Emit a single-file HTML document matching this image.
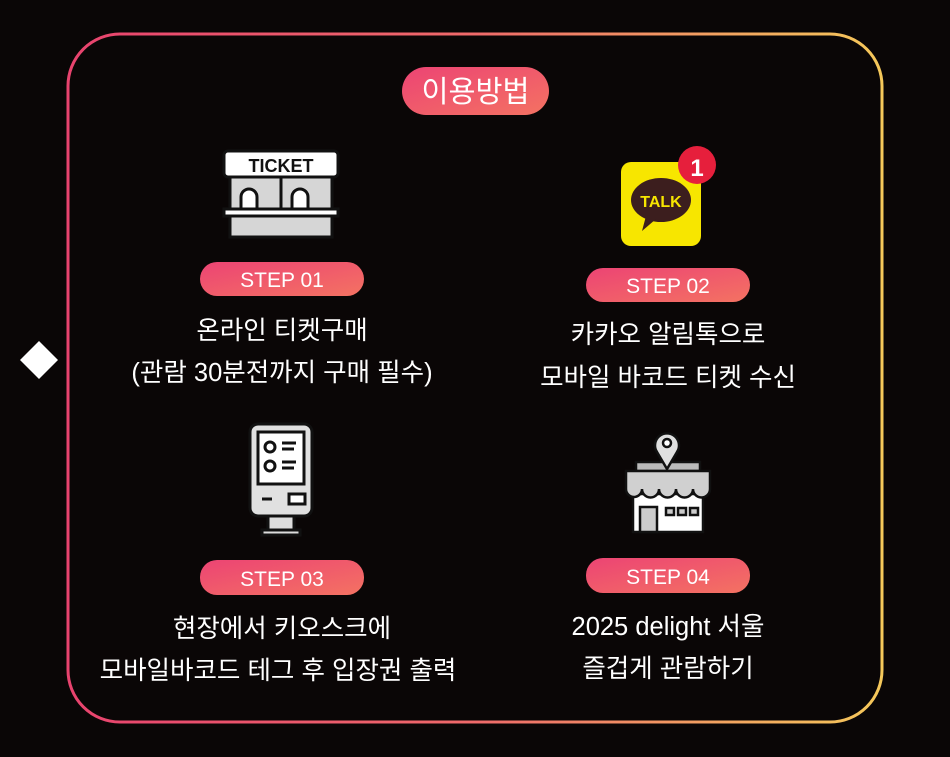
<!DOCTYPE html>
<html><head><meta charset="utf-8"><style>
html,body{margin:0;padding:0;background:#0a0606;}
svg{display:block}
text{font-family:"Liberation Sans","Noto Sans CJK KR","NanumGothic",sans-serif;fill:#fff;}
</style></head><body>
<svg width="950" height="757" viewBox="0 0 950 757">
<defs>
<linearGradient id="bd" x1="0" y1="0" x2="1" y2="0">
<stop offset="0" stop-color="#e8436e"/><stop offset="0.5" stop-color="#ef6a6a"/><stop offset="1" stop-color="#f5c85a"/>
</linearGradient>
<linearGradient id="pl" x1="0" y1="0" x2="1" y2="1">
<stop offset="0" stop-color="#ec4474"/><stop offset="1" stop-color="#f47262"/>
</linearGradient>
</defs>
<rect x="0" y="0" width="950" height="757" fill="#0a0606"/>
<rect x="68" y="34" width="814" height="688" rx="52" fill="none" stroke="url(#bd)" stroke-width="3"/>
<polygon points="39,341 58,360 39,379 20,360" fill="#fff"/>

<!-- title -->
<rect x="402" y="67" width="147" height="48" rx="24" fill="url(#pl)"/>
<text x="475.5" y="102" font-size="30" text-anchor="middle" textLength="108" lengthAdjust="spacingAndGlyphs">이용방법</text>

<!-- ticket icon -->
<g stroke="#111" stroke-width="3">
<rect x="224" y="151" width="114" height="26" rx="4" fill="#fff"/>
<rect x="230" y="177" width="102" height="60" fill="#d6d6d6"/>
<line x1="281" y1="177" x2="281" y2="209"/>
<path d="M241,209 v-12 a8,8 0 0 1 16,0 v12" fill="#fff"/>
<path d="M292,209 v-12 a8,8 0 0 1 16,0 v12" fill="#fff"/>
<rect x="224" y="209" width="114" height="7" fill="#fff"/>
</g>
<text x="281" y="172" font-size="18" font-weight="bold" text-anchor="middle" style="fill:#111">TICKET</text>

<!-- talk icon -->
<rect x="621" y="162" width="80" height="84" rx="10" fill="#f7e600"/>
<ellipse cx="661" cy="200" rx="30" ry="22" fill="#3c1e1e"/>
<polygon points="646,216 642,231 656,219" fill="#3c1e1e"/>
<text x="661" y="207" font-size="16" font-weight="bold" text-anchor="middle" style="fill:#f7e600">TALK</text>
<circle cx="697" cy="165" r="19" fill="#e61f3c"/>
<text x="697" y="176" font-size="24" font-weight="bold" text-anchor="middle">1</text>

<!-- kiosk icon -->
<g stroke="#111" stroke-width="3">
<rect x="250" y="424" width="62" height="92" rx="8" fill="#e0e0e0"/>
<rect x="258" y="432" width="46" height="52" fill="#fff"/>
<circle cx="270" cy="447" r="5" fill="none"/>
<circle cx="270" cy="466" r="5" fill="none"/>
<line x1="282" y1="443" x2="296" y2="443"/><line x1="282" y1="449" x2="294" y2="449"/>
<line x1="282" y1="462" x2="296" y2="462"/><line x1="282" y1="468" x2="294" y2="468"/>
<line x1="262" y1="499" x2="272" y2="499"/>
<rect x="289" y="494" width="16" height="10" fill="#fff"/>
<rect x="268" y="516" width="26" height="14" fill="#ddd"/>
<rect x="262" y="530" width="38" height="5" fill="#ddd"/>
</g>

<!-- store icon -->
<g stroke="#111" stroke-width="2.5">
<rect x="633" y="494" width="70" height="38" fill="#fff"/>
<rect x="640" y="507" width="17" height="25" fill="#ccc"/>
<rect x="666" y="508" width="8" height="7" fill="#ccc"/><rect x="678" y="508" width="8" height="7" fill="#ccc"/><rect x="690" y="508" width="8" height="7" fill="#ccc"/>
<rect x="636" y="462" width="64" height="9" fill="#bbb"/>
<path d="M626,471 h84 v18 a8,8 0 0 1 -17,0 a8,8 0 0 1 -17,0 a8,8 0 0 1 -17,0 a8,8 0 0 1 -17,0 a8,8 0 0 1 -16,0 z" fill="#d0d0d0"/>
<path d="M667,469 l-10,-17 a12,12 0 1 1 20,0 z" fill="#e0e0e0"/>
<circle cx="667" cy="443" r="4" fill="#fff"/>
</g>

<!-- pills -->
<rect x="200" y="262" width="164" height="34" rx="17" fill="url(#pl)"/>
<text x="282" y="287" font-size="21" text-anchor="middle">STEP 01</text>
<rect x="586" y="268" width="164" height="34" rx="17" fill="url(#pl)"/>
<text x="668" y="293" font-size="21" text-anchor="middle">STEP 02</text>
<rect x="200" y="560" width="164" height="35" rx="17" fill="url(#pl)"/>
<text x="282" y="586" font-size="21" text-anchor="middle">STEP 03</text>
<rect x="586" y="558" width="164" height="35" rx="17" fill="url(#pl)"/>
<text x="668" y="584" font-size="21" text-anchor="middle">STEP 04</text>

<!-- descriptions -->
<g font-size="25.5" text-anchor="middle">
<text x="282" y="339">온라인 티켓구매</text>
<text x="282" y="381">(관람 30분전까지 구매 필수)</text>
<text x="668" y="343">카카오 알림톡으로</text>
<text x="668" y="386">모바일 바코드 티켓  수신</text>
<text x="282" y="637">현장에서 키오스크에</text>
<text x="278" y="679">모바일바코드 테그 후 입장권 출력</text>
<text x="668" y="635">2025 delight 서울</text>
<text x="668" y="677">즐겁게 관람하기</text>
</g>
</svg>
</body></html>
